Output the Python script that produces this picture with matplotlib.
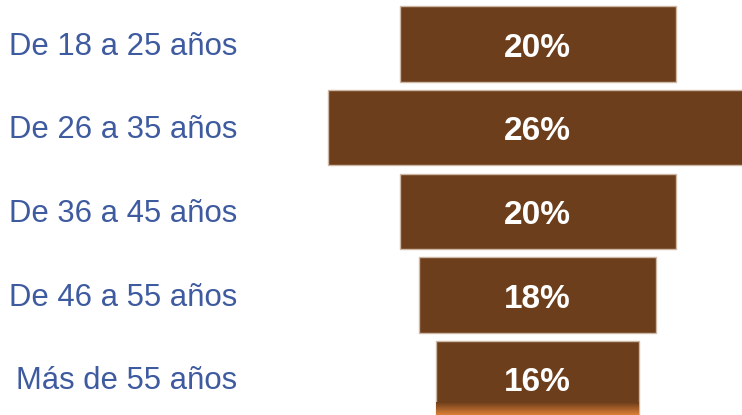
import numpy as np
import matplotlib
matplotlib.use("Agg")
import matplotlib.pyplot as plt

# Age groups and their share (labels shown on the bars)
age_groups = ["De 18 a 25 años", "De 26 a 35 años", "De 36 a 45 años",
              "De 46 a 55 años", "Más de 55 años"]
shares = [20, 26, 20, 18, 16]
# bar lengths as drawn in the original funnel
bar_lengths = [20.0, 30.4, 20.0, 17.15, 14.7]

BAR_COLOR = "#6C3E1B"
TEXT_BLUE = "#3F5BA0"

plt.rcParams["font.family"] = ["Liberation Sans", "DejaVu Sans"]

fig = plt.figure(figsize=(7.42, 4.15), dpi=100)
ax = fig.add_axes([0, 0, 1, 1])

px_per_unit = 13.8
center_px = 537.5
pitch = 83.67

y = np.arange(len(age_groups))
lengths = np.array(bar_lengths)
bars = ax.barh(y, lengths, left=-lengths / 2, height=0.9, color=BAR_COLOR,
               edgecolor="#CDB8A6", linewidth=1.0, zorder=2)

# orange glow at the bottom of the last bar
last = bars[-1]
grad = np.linspace(0, 1, 50).reshape(-1, 1)
cmap = matplotlib.colors.LinearSegmentedColormap.from_list(
    "glow", [BAR_COLOR, "#E8873A"])
x0 = last.get_x()
ax.imshow(grad, aspect="auto", cmap=cmap, zorder=3,
          extent=(x0, x0 + last.get_width(), y[-1] + 0.45, y[-1] + 0.29))

for yi, share in zip(y, shares):
    ax.text(0, yi + 0.153, f"{share}%", ha="center", va="baseline",
            color="white", fontsize=24, fontweight="bold", zorder=4)

for yi, name in zip(y, age_groups):
    ax.text(237 / 742, yi + 0.126, name, transform=ax.get_yaxis_transform(),
            ha="right", va="baseline", color=TEXT_BLUE, fontsize=22.4)

ax.set_xlim(-center_px / px_per_unit, (742 - center_px) / px_per_unit)
ax.set_ylim((415 - 44) / pitch, -44 / pitch)
ax.axis("off")

fig.savefig("out.png", dpi=100)
